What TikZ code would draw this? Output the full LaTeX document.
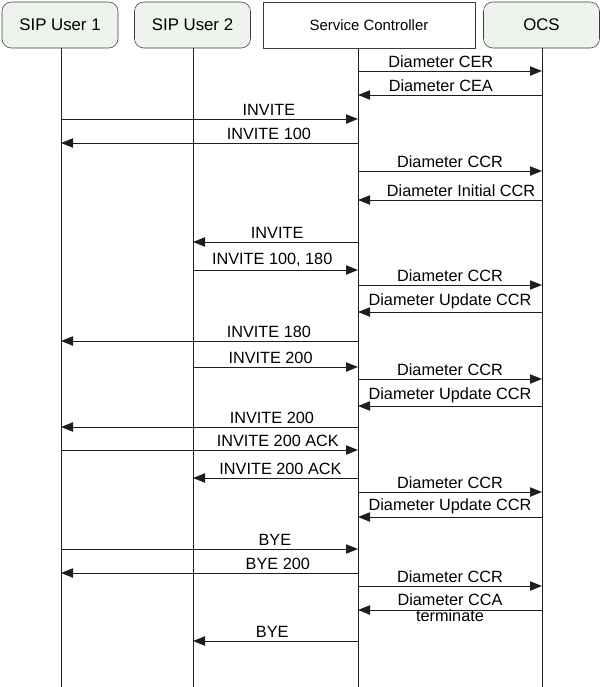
\documentclass[tikz,border=0pt]{standalone}
\usepackage{fontspec}
\setmainfont{Liberation Sans}
\usepackage{xcolor}
\usepackage{tikz}
\usetikzlibrary{calc,arrows.meta}
\definecolor{partyfill}{RGB}{239,243,238}
\definecolor{partydraw}{RGB}{60,60,60}
\definecolor{wire}{RGB}{30,30,30}
\tikzset{
 party/.style={draw=partydraw, fill=partyfill, rounded corners=7pt,
        minimum width=116*0.75pt, minimum height=46*0.75pt,
        inner sep=0pt, font=\fontsize{12.6}{14}\selectfont},
 party plain/.style={party, fill=white, rounded corners=0pt,
        minimum width=212*0.75pt, font=\fontsize{11.2}{13}\selectfont},
 lifeline/.style={draw=wire, line width=0.7pt},
 msg/.style={draw=wire, line width=0.7pt,
        -{Triangle[length=9pt, width=7pt]}},
 msglabel/.style={above, inner sep=2pt, font=\fontsize{12.2}{12}\selectfont},
}

\begin{document}
\begin{tikzpicture}[x=0.75pt, y=-0.75pt]
\useasboundingbox (0,0) rectangle (602,687);
% Parties across the top
\node[party] (u1) at (60,25) {SIP User 1};
\node[party] (u2) at (192.5,25) {SIP User 2};
\node[party plain] (sc) at (369,25) {Service Controller};
\node[party] (ocs) at (541.5,25) {OCS};
% Lifelines, top and bottom ends
\coordinate (l1) at (61,48);   \coordinate (e1) at (61,687);
\coordinate (l2) at (193,48);  \coordinate (e2) at (193,687);
\coordinate (l3) at (358,48);  \coordinate (e3) at (358,687);
\coordinate (l4) at (542,48);  \coordinate (e4) at (542,687);
\foreach \i in {1,...,4}
 \draw[lifeline] (l\i) -- (e\i);
% Message flow (source/target lifeline, y in px, label position, text)
\foreach \src/\dst/\y/\p/\lbl in {%
 l3/l4/71/.45/Diameter CER, l4/l3/95/.55/Diameter CEA,
 l1/l3/119/.70/INVITE, l3/l1/143/.30/INVITE 100,
 l3/l4/171/.50/Diameter CCR, l4/l3/200/.44/Diameter Initial CCR,
 l3/l2/242/.49/INVITE, l2/l3/270/.48/{INVITE 100, 180},
 l3/l4/285/.50/Diameter CCR, l4/l3/312/.50/Diameter Update CCR,
 l3/l1/341/.30/INVITE 180, l2/l3/367/.47/INVITE 200,
 l3/l4/379/.50/Diameter CCR, l4/l3/406/.50/Diameter Update CCR,
 l3/l1/427/.29/INVITE 200, l1/l3/450/.73/INVITE 200 ACK,
 l3/l2/478/.47/INVITE 200 ACK,
 l3/l4/492/.50/Diameter CCR, l4/l3/517/.50/Diameter Update CCR,
 l1/l3/549/.72/BYE, l3/l1/573/.27/BYE 200,
 l3/l4/586/.50/Diameter CCR, l3/l2/641/.52/BYE%
}{
 \draw[msg] (\src |- 0,\y) -- (\dst |- 0,\y) node[msglabel, pos=\p] {\lbl};
}
% The terminating answer carries a two-line label
\draw[msg] (l4 |- 0,610) -- (l3 |- 0,610)
 node[pos=.5, yshift=1.5pt, align=center, inner sep=0pt,
   font=\fontsize{12.2}{12}\selectfont] {Diameter CCA\\terminate};
\end{tikzpicture}
\end{document}
